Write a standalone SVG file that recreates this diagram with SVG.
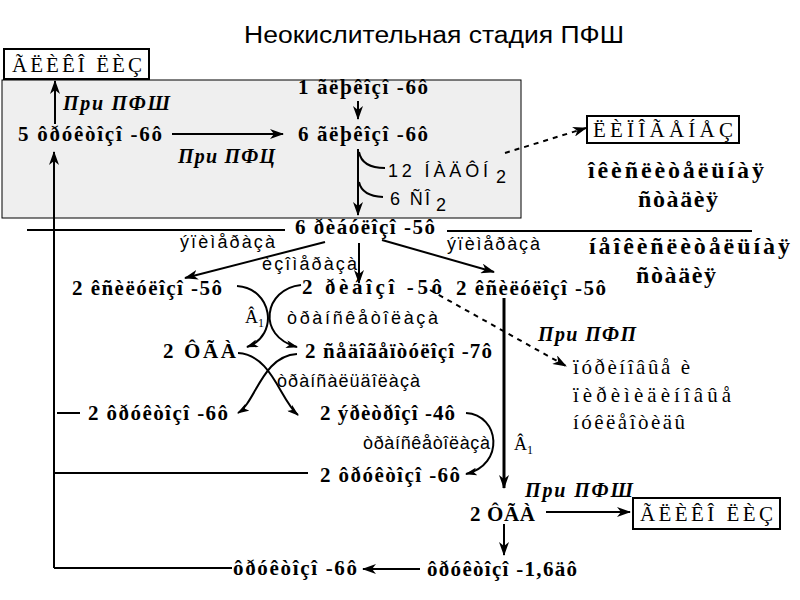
<svg xmlns="http://www.w3.org/2000/svg" width="800" height="600" viewBox="0 0 800 600">
<style>
.b{font-family:"Liberation Serif",serif;font-weight:bold;font-size:21px;fill:#000}
.r{font-family:"Liberation Serif",serif;font-size:21px;fill:#000}
.s{font-family:"Liberation Sans",sans-serif;font-size:18px;fill:#000}
.bi{font-family:"Liberation Serif",serif;font-weight:bold;font-style:italic;font-size:20px;fill:#000}
.big{font-family:"Liberation Serif",serif;font-weight:bold;font-size:24px;fill:#000}
.ln{stroke:#000;stroke-width:2;fill:none}
.box{fill:#fff;stroke:#000;stroke-width:2}
</style>
<defs>
<marker id="ah" markerUnits="userSpaceOnUse" markerWidth="14" markerHeight="10" refX="13" refY="5" orient="auto">
<path d="M0,0 L14,5 L0,10 L4,5 z" fill="#000"/>
</marker>
<marker id="ahs" markerUnits="userSpaceOnUse" markerWidth="12" markerHeight="8" refX="11" refY="4" orient="auto">
<path d="M0,0 L12,4 L0,8 L3,4 z" fill="#000"/>
</marker>
</defs>
<rect width="800" height="600" fill="#fff"/>
<text x="434" y="43" text-anchor="middle" font-family="Liberation Sans, sans-serif" font-size="23" textLength="380" lengthAdjust="spacingAndGlyphs">Неокислительная стадия ПФШ</text>
<rect x="2" y="80" width="519" height="138" fill="#efefef" stroke="#000" stroke-width="1"/>
<g id="glycolysis1"><rect class="box" x="4" y="49" width="145" height="30"/><text class="r" x="12" y="72" font-size="22" textLength="130" lengthAdjust="spacing">ÃËÈÊÎ ËÈÇ</text></g>
<g id="lipogenesis"><rect class="box" x="587" y="116" width="152" height="27"/><text class="r" x="593" y="137" textLength="140" lengthAdjust="spacing">ËÈÏÎÃÅÍÅÇ</text></g>
<g id="glycolysis2"><rect class="box" x="633" y="498" width="147" height="31"/><text class="r" x="640" y="521" font-size="22" textLength="133" lengthAdjust="spacing">ÃËÈÊÎ ËÈÇ</text></g>
<g id="f6p-5"><text class="b" x="18" y="141" textLength="144" lengthAdjust="spacing">5 ôðóêòîçî -6ô</text></g>
<g id="g6p-1"><text class="b" x="298" y="94" textLength="130" lengthAdjust="spacing">1 ãëþêîçî -6ô</text></g>
<g id="g6p-6"><text class="b" x="298" y="141" textLength="130" lengthAdjust="spacing">6 ãëþêîçî -6ô</text></g>
<g id="nadph"><text class="s" x="388" y="177" font-size="19" textLength="100" lengthAdjust="spacing">12 ÍÀÄÔÍ</text><text class="s" x="496" y="183" font-size="14">2</text></g>
<g id="co2"><text class="s" x="390" y="205" font-size="19" textLength="40" lengthAdjust="spacing">6 ÑÎ</text><text class="s" x="436" y="211" font-size="14">2</text></g>
<g id="ox-label"><text class="big" x="676" y="178" text-anchor="middle" textLength="176" lengthAdjust="spacing">îêèñëèòåëüíàÿ</text><text class="big" x="678" y="207" text-anchor="middle" textLength="80" lengthAdjust="spacing">ñòàäèÿ</text></g>
<g id="nonox-label"><text class="big" x="589" y="254" textLength="201" lengthAdjust="spacing">íåîêèñëèòåëüíàÿ</text><text class="big" x="676" y="283" text-anchor="middle" textLength="80" lengthAdjust="spacing">ñòàäèÿ</text></g>
<g id="ru5p"><text class="b" x="295" y="234" textLength="140" lengthAdjust="spacing">6 ðèáóëîçî -5ô</text></g>
<g id="x5p-l"><text class="b" x="72" y="295" textLength="150" lengthAdjust="spacing">2 êñèëóëîçî -5ô</text></g>
<g id="r5p"><text class="b" x="302" y="294" textLength="140" lengthAdjust="spacing">2 ðèáîçî -5ô</text></g>
<g id="x5p-r"><text class="b" x="456" y="295" textLength="150" lengthAdjust="spacing">2 êñèëóëîçî -5ô</text></g>
<g id="ga3p-l"><text class="b" x="163" y="358" font-size="22" textLength="73" lengthAdjust="spacing">2 ÔÃÀ</text></g>
<g id="s7p"><text class="b" x="305" y="358" textLength="187" lengthAdjust="spacing">2 ñåäîãåïòóëîçî -7ô</text></g>
<g id="f6p-l"><text class="b" x="88" y="420" textLength="140" lengthAdjust="spacing">2 ôðóêòîçî -6ô</text></g>
<g id="e4p"><text class="b" x="320" y="420" textLength="135" lengthAdjust="spacing">2 ýðèòðîçî -4ô</text></g>
<g id="f6p-r"><text class="b" x="320" y="482" textLength="140" lengthAdjust="spacing">2 ôðóêòîçî -6ô</text></g>
<g id="ga3p-r"><text class="b" x="470" y="521" font-size="22" textLength="65" lengthAdjust="spacing">2 ÔÃÀ</text></g>
<g id="f6p-b"><text class="b" x="233" y="575" textLength="124" lengthAdjust="spacing">ôðóêòîçî -6ô</text></g>
<g id="f16dp"><text class="b" x="427" y="576" textLength="150" lengthAdjust="spacing">ôðóêòîçî -1,6äô</text></g>
<g id="nucleotides"><text class="r" x="573" y="374" font-size="20" textLength="117" lengthAdjust="spacing">ïóðèíîâûå è</text><text class="r" x="573" y="402" font-size="20" textLength="158" lengthAdjust="spacing">ïèðèìèäèíîâûå</text><text class="r" x="573" y="429" font-size="20" textLength="112" lengthAdjust="spacing">íóêëåîòèäû</text></g>
<g id="labels">
<text class="bi" x="63" y="110" textLength="107" lengthAdjust="spacing">При ПФШ</text>
<text class="bi" x="178" y="163" textLength="97" lengthAdjust="spacing">При ПФЦ</text>
<text class="bi" x="538" y="341" textLength="98" lengthAdjust="spacing">При ПФП</text>
<text class="bi" x="525" y="497" textLength="108" lengthAdjust="spacing">При ПФШ</text>
<text class="s" x="180" y="248" textLength="95" lengthAdjust="spacing">ýïèìåðàçà</text>
<text class="s" x="262" y="270" textLength="95" lengthAdjust="spacing">èçîìåðàçà</text>
<text class="s" x="447" y="250" textLength="93" lengthAdjust="spacing">ýïèìåðàçà</text>
<text class="s" x="287" y="324" textLength="151" lengthAdjust="spacing">òðàíñêåòîëàçà</text>
<text class="s" x="277" y="387" textLength="143" lengthAdjust="spacing">òðàíñàëüäîëàçà</text>
<text class="s" x="363" y="449" textLength="127" lengthAdjust="spacing">òðàíñêåòîëàçà</text>
<text font-family="Liberation Serif, serif" font-size="18" x="245" y="323">Â<tspan font-size="12" dy="4">1</tspan></text>
<text font-family="Liberation Serif, serif" font-size="18" x="514" y="450">Â<tspan font-size="12" dy="4">1</tspan></text>
</g>
<g id="connectors">
<line class="ln" x1="55" y1="124" x2="55" y2="81" marker-end="url(#ah)"/>
<line class="ln" x1="172" y1="134" x2="283" y2="134" marker-end="url(#ah)"/>
<line class="ln" x1="358" y1="101" x2="358" y2="119" marker-end="url(#ah)"/>
<line class="ln" x1="358" y1="149" x2="358" y2="215" marker-end="url(#ah)"/>
<path class="ln" d="M359,152 Q362,168 385,168"/>
<path class="ln" d="M359,182 Q362,196 383,197"/>
<path class="ln" d="M505,153 L586,128" stroke-dasharray="5,5" marker-end="url(#ah)"/>
<line class="ln" x1="27" y1="230" x2="285" y2="230"/>
<line class="ln" x1="447" y1="231" x2="752" y2="231"/>
<line class="ln" x1="54" y1="568" x2="54" y2="152" marker-end="url(#ah)"/>
<line class="ln" x1="54" y1="568" x2="232" y2="568"/>
<line class="ln" x1="57" y1="413" x2="80" y2="413"/>
<line class="ln" x1="54" y1="473" x2="308" y2="473"/>
<line class="ln" x1="325" y1="242" x2="185" y2="278" marker-end="url(#ah)"/>
<line class="ln" x1="359" y1="243" x2="359" y2="283" marker-end="url(#ah)"/>
<line class="ln" x1="382" y1="240" x2="494" y2="272" marker-end="url(#ah)"/>
<path class="ln" d="M237,286 C272,288 280,335 247,347" marker-end="url(#ahs)"/>
<path class="ln" d="M301,285 C264,289 256,336 297,347" marker-end="url(#ahs)"/>
<path class="ln" d="M238,353 C272,355 280,400 298,415" marker-end="url(#ahs)"/>
<path class="ln" d="M297,354 C262,356 256,402 238,413" marker-end="url(#ahs)"/>
<path class="ln" d="M466,413 C500,415 505,465 466,474" marker-end="url(#ahs)"/>
<line x1="504" y1="298" x2="504" y2="488" stroke="#000" stroke-width="3" marker-end="url(#ah)"/>
<path class="ln" d="M430,290 L566,366" stroke-dasharray="5,5" marker-end="url(#ah)"/>
<line class="ln" x1="546" y1="512" x2="630" y2="512" marker-end="url(#ah)"/>
<line class="ln" x1="504" y1="524" x2="504" y2="555" marker-end="url(#ah)"/>
<line class="ln" x1="420" y1="569" x2="363" y2="569" marker-end="url(#ah)"/>
</g>
</svg>
